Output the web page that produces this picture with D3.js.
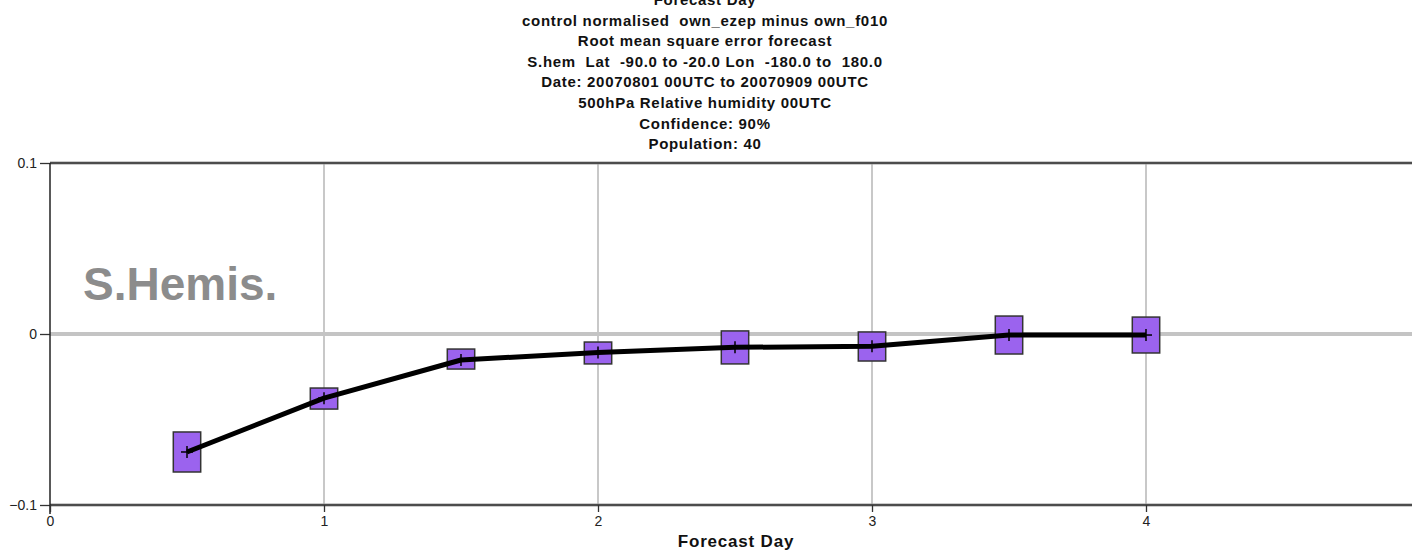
<!DOCTYPE html>
<html><head><meta charset="utf-8">
<script src="https://cdn.jsdelivr.net/npm/d3@7"></script>
<style>
html,body{margin:0;padding:0;background:#fff;overflow:hidden;}
svg{display:block;}
</style></head>
<body>
<svg id="chart" width="1412" height="551"></svg>
<script>
// ---- data ----
const days = [0.5, 1, 1.5, 2, 2.5, 3, 3.5, 4];
const meanDiff = [-0.069, -0.0375, -0.0152, -0.0108, -0.0078, -0.0072, -0.0006, -0.0006];
const lowerCI = [-0.0807, -0.0439, -0.0205, -0.0175, -0.0175, -0.0158, -0.0117, -0.0111];
const upperCI = [-0.0573, -0.0316, -0.0088, -0.0047, 0.0018, 0.0012, 0.0105, 0.0099];
const yTicks = [-0.1, 0, 0.1];
const xTicks = [0, 1, 2, 3, 4];
const titleLines = [
  "Forecast Day",
  "control normalised  own_ezep minus own_f010",
  "Root mean square error forecast",
  "S.hem  Lat  -90.0 to -20.0 Lon  -180.0 to  180.0",
  "Date: 20070801 00UTC to 20070909 00UTC",
  "500hPa Relative humidity 00UTC",
  "Confidence: 90%",
  "Population: 40"
];
const regionLabel = "S.Hemis.";
const xLabel = "Forecast Day";
const boxHalfWidth = 0.05;

// ---- layout ----
const svg = d3.select("#chart");
const x = d3.scaleLinear().domain([0, 5]).range([50, 1420]);
const y = d3.scaleLinear().domain([-0.1, 0.1]).range([505, 163]);

// title
svg.append("g").selectAll("text").data(titleLines).join("text")
  .attr("x", 705)
  .attr("y", (d, i) => 5 + i * 20.6)
  .attr("text-anchor", "middle")
  .style("white-space", "pre")
  .attr("xml:space", "preserve")
  .style("font-family", "Liberation Sans, Arial, sans-serif")
  .style("font-weight", "bold")
  .style("font-size", "15px")
  .style("letter-spacing", "0.7px")
  .attr("fill", "#111")
  .text(d => d);

// vertical grid lines
svg.append("g").selectAll("line").data(xTicks.filter(d => d > 0)).join("line")
  .attr("x1", d => x(d)).attr("x2", d => x(d))
  .attr("y1", y(0.1)).attr("y2", y(-0.1))
  .attr("stroke", "#c8c8c8").attr("stroke-width", 2);

// zero line
svg.append("line")
  .attr("x1", x(0)).attr("x2", 1412)
  .attr("y1", y(0)).attr("y2", y(0))
  .attr("stroke", "#c4c4c4").attr("stroke-width", 4);

// top & bottom border lines
[0.1, -0.1].forEach(v => {
  svg.append("line")
    .attr("x1", x(0)).attr("x2", 1412)
    .attr("y1", y(v)).attr("y2", y(v))
    .attr("stroke", "#999").attr("stroke-width", 3);
  svg.append("line")
    .attr("x1", x(0)).attr("x2", 1412)
    .attr("y1", y(v)).attr("y2", y(v))
    .attr("stroke", "#333").attr("stroke-width", 1.3);
});

// y axis
const yAxis = d3.axisLeft(y).tickValues(yTicks).tickSize(10).tickPadding(3)
  .tickFormat(d => d === 0 ? "0" : d3.format(".1f")(d));
const gy = svg.append("g").attr("transform", `translate(${x(0)},0)`).call(yAxis);
gy.attr("font-size", null).attr("font-family", null);
gy.select(".domain").remove();
gy.selectAll(".tick line").attr("stroke", "#333").attr("stroke-width", 1.3);
gy.selectAll(".tick text").style("font-family", "Liberation Sans, Arial, sans-serif")
  .style("font-size", "14px").attr("fill", "#222");
svg.append("line").attr("x1", x(0)).attr("x2", x(0))
  .attr("y1", y(0.1)).attr("y2", y(-0.1) + 9)
  .attr("stroke", "#222").attr("stroke-width", 1.5);

// x axis
const xAxis = d3.axisBottom(x).tickValues(xTicks).tickSize(7).tickPadding(4).tickFormat(d3.format("d"));
const gx = svg.append("g").attr("transform", `translate(0,${y(-0.1)})`).call(xAxis);
gx.attr("font-size", null).attr("font-family", null);
gx.select(".domain").remove();
gx.selectAll(".tick line").attr("stroke", "#333").attr("stroke-width", 1.3);
gx.selectAll(".tick text").style("font-family", "Liberation Sans, Arial, sans-serif")
  .style("font-size", "14px").attr("fill", "#222");

svg.append("text")
  .attr("x", 736).attr("y", 547)
  .attr("text-anchor", "middle")
  .style("font-family", "Liberation Sans, Arial, sans-serif")
  .style("font-weight", "bold").style("font-size", "17px")
  .style("letter-spacing", "0.8px")
  .attr("fill", "#111")
  .text(xLabel);

// region label
svg.append("text")
  .attr("x", 83).attr("y", 300)
  .style("font-family", "Liberation Sans, Arial, sans-serif")
  .style("font-weight", "bold").style("font-size", "46px")
  .attr("fill", "#8c8c8c")
  .text(regionLabel);

// confidence boxes
const data = days.map((d, i) => ({day: d, mean: meanDiff[i], lo: lowerCI[i], hi: upperCI[i]}));
svg.append("g").selectAll("rect").data(data).join("rect")
  .attr("x", d => x(d.day - boxHalfWidth))
  .attr("width", d => x(d.day + boxHalfWidth) - x(d.day - boxHalfWidth))
  .attr("y", d => y(d.hi))
  .attr("height", d => y(d.lo) - y(d.hi))
  .attr("fill", "#9b63ee")
  .attr("stroke", "#333").attr("stroke-width", 1.5);

// mean line
const line = d3.line().x(d => x(d.day)).y(d => y(d.mean));
svg.append("path").datum(data).attr("d", line)
  .attr("fill", "none").attr("stroke", "#000").attr("stroke-width", 5)
  .attr("stroke-linejoin", "round");

// plus markers
const pm = svg.append("g").selectAll("g").data(data).join("g")
  .attr("transform", d => `translate(${x(d.day)},${y(d.mean)})`);
pm.append("line").attr("x1", -6).attr("x2", 6).attr("stroke", "#000").attr("stroke-width", 1.5);
pm.append("line").attr("y1", -6).attr("y2", 6).attr("stroke", "#000").attr("stroke-width", 1.5);
</script>
</body></html>
